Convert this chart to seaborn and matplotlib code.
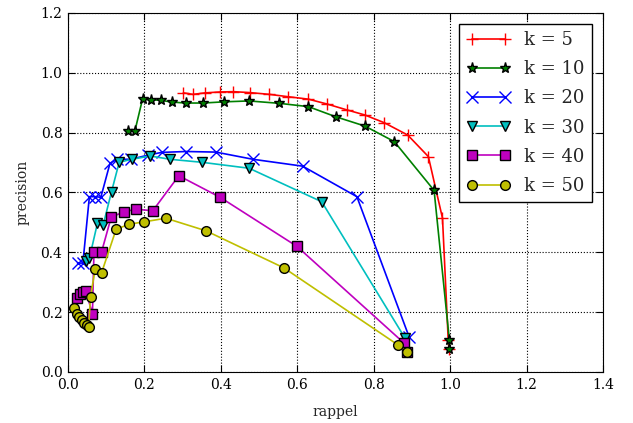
import pandas as pd
import seaborn as sns
import matplotlib
matplotlib.use('Agg')
import matplotlib.pyplot as plt

# recall / precision curves for several k
rappel_k5 = [0.302, 0.327, 0.359, 0.398, 0.433, 0.475, 0.527, 0.577, 0.629, 0.677,
             0.730, 0.777, 0.828, 0.889, 0.943, 0.980, 0.995, 0.998]
prec_k5 = [0.933, 0.928, 0.933, 0.936, 0.937, 0.934, 0.928, 0.920, 0.912, 0.896,
           0.876, 0.859, 0.833, 0.792, 0.720, 0.514, 0.107, 0.077]

rappel_k10 = [0.158, 0.175, 0.195, 0.216, 0.243, 0.273, 0.309, 0.354, 0.408, 0.474,
              0.553, 0.629, 0.701, 0.777, 0.854, 0.958, 0.998, 0.998]
prec_k10 = [0.806, 0.805, 0.912, 0.910, 0.908, 0.902, 0.899, 0.899, 0.903, 0.906,
            0.898, 0.887, 0.853, 0.822, 0.770, 0.607, 0.107, 0.076]

rappel_k20 = [0.025, 0.039, 0.056, 0.071, 0.086, 0.110, 0.129, 0.164, 0.210, 0.245,
              0.309, 0.387, 0.484, 0.614, 0.756, 0.893]
prec_k20 = [0.364, 0.364, 0.586, 0.586, 0.584, 0.698, 0.711, 0.711, 0.725, 0.734,
            0.737, 0.735, 0.711, 0.688, 0.586, 0.116]

rappel_k30 = [0.048, 0.056, 0.077, 0.092, 0.114, 0.134, 0.167, 0.215, 0.267, 0.350,
              0.474, 0.664, 0.882]
prec_k30 = [0.372, 0.380, 0.497, 0.491, 0.603, 0.701, 0.711, 0.722, 0.711, 0.701,
            0.681, 0.569, 0.113]

rappel_k40 = [0.023, 0.031, 0.039, 0.047, 0.064, 0.068, 0.088, 0.113, 0.147, 0.178,
              0.222, 0.290, 0.398, 0.599, 0.879, 0.887]
prec_k40 = [0.248, 0.262, 0.268, 0.270, 0.194, 0.402, 0.402, 0.517, 0.536, 0.544,
            0.539, 0.656, 0.584, 0.420, 0.097, 0.067]

rappel_k50 = [0.016, 0.023, 0.030, 0.036, 0.042, 0.049, 0.054, 0.059, 0.071, 0.088,
              0.126, 0.160, 0.200, 0.256, 0.361, 0.565, 0.864, 0.887]
prec_k50 = [0.213, 0.194, 0.183, 0.174, 0.165, 0.157, 0.149, 0.252, 0.343, 0.332,
            0.477, 0.494, 0.502, 0.514, 0.472, 0.348, 0.090, 0.067]

series = [
    ('k = 5', rappel_k5, prec_k5, '#ff0000', '+'),
    ('k = 10', rappel_k10, prec_k10, '#008000', '*'),
    ('k = 20', rappel_k20, prec_k20, '#0000ff', 'x'),
    ('k = 30', rappel_k30, prec_k30, '#00bfbf', 'v'),
    ('k = 40', rappel_k40, prec_k40, '#bf00bf', 's'),
    ('k = 50', rappel_k50, prec_k50, '#bfbf00', 'o'),
]

sns.set_style('ticks', rc={
    'axes.edgecolor': 'black',
    'axes.linewidth': 1.0,
    'axes.grid': True,
    'grid.color': 'black',
    'grid.linestyle': ':',
    'grid.linewidth': 1.0,
    'xtick.direction': 'in',
    'ytick.direction': 'in',
    'xtick.top': True,
    'ytick.right': True,
    'xtick.color': 'black',
    'ytick.color': 'black',
})
plt.rcParams['font.family'] = ['DejaVu Serif']

fig = plt.figure(figsize=(6.33, 4.23), dpi=100)
ax = fig.add_axes([0.1074, 0.1206, 0.8452, 0.8487])

for label, x, y, col, mk in series:
    df = pd.DataFrame({'rappel': x, 'precision': y})
    edge = col if mk in ('+', 'x') else 'black'
    size = {'+': 8, 'x': 8, '*': 8}.get(mk, 7)
    sns.lineplot(data=df, x='rappel', y='precision', sort=False, estimator=None,
                 color=col, marker=mk, markersize=size,
                 markeredgecolor=edge, markeredgewidth=1.0,
                 linewidth=1.2, label=label, ax=ax)

ax.set_xlim(0, 1.4)
ax.set_ylim(0, 1.2)
ax.set_xticks([0.0, 0.2, 0.4, 0.6, 0.8, 1.0, 1.2, 1.4])
ax.set_yticks([0.0, 0.2, 0.4, 0.6, 0.8, 1.0, 1.2])
ax.tick_params(labelsize=10, length=5, pad=4)
ax.set_xlabel('rappel', fontsize=10, labelpad=10)
ax.set_ylabel('precision', fontsize=10, labelpad=8)

leg = ax.legend(loc='upper right', fontsize=13, numpoints=2, fancybox=False,
                framealpha=1, edgecolor='black', handlelength=2.4,
                labelspacing=0.62, borderaxespad=0.6)
leg.get_frame().set_linewidth(1.0)

fig.savefig('out.png', dpi=100)
